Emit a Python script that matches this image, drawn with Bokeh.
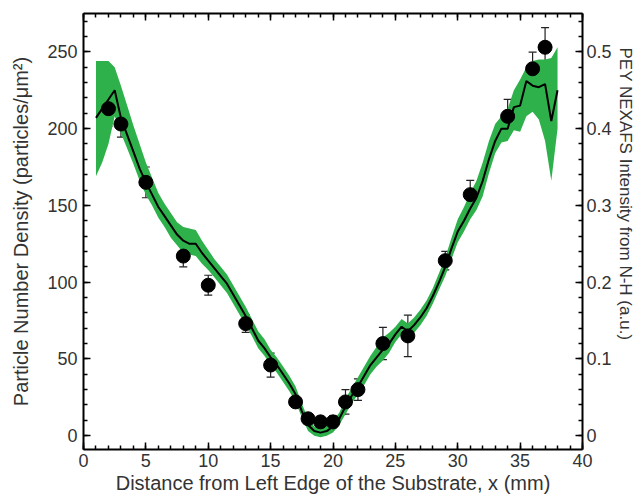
from bokeh.plotting import figure
from bokeh.models import (Range1d, LinearAxis, SingleIntervalTicker, Whisker, TeeHead,
                          ColumnDataSource, CustomJSTickFormatter, Title)
from bokeh.embed import file_html
from bokeh.resources import INLINE

# Measured particle density (particles/um^2) with error bars
pts_x = [2, 3, 5, 8, 10, 13, 15, 17, 18, 19, 20, 21, 22, 24, 26, 29, 31, 34, 36, 37]
pts_y = [213, 203, 165, 117, 98, 73, 46, 22, 11, 9, 9, 22, 30, 60, 65, 114, 157, 208, 239, 253]
pts_err = [11.5, 8.5, 10, 7, 6.5, 5.7, 7.8, 3, 2.5, 2.5, 4, 8, 7, 10.5, 13.5, 6, 9.3, 11, 10.8, 12.8]

# PEY NEXAFS intensity profile (plotted in density units; right axis = value/500)
line_x = [1.0, 1.5, 2.0, 2.5, 3.0, 3.5, 4.0, 4.5, 5.0, 5.5, 6.0, 6.5, 7.0, 7.5, 8.0, 8.5,
          9.0, 9.5, 10.0, 10.5, 11.0, 11.5, 12.0, 12.5, 13.0, 13.5, 14.0, 14.5, 15.0, 15.5,
          16.0, 16.5, 17.0, 17.5, 18.0, 18.5, 19.0, 19.5, 20.0, 20.5, 21.0, 21.5, 22.0, 22.5,
          23.0, 23.5, 24.0, 24.5, 25.0, 25.5, 26.0, 26.5, 27.0, 27.5, 28.0, 28.5, 29.0, 29.5,
          30.0, 30.5, 31.0, 31.5, 32.0, 32.5, 33.0, 33.5, 34.0, 34.5, 35.0, 35.5, 36.0, 36.5,
          37.0, 37.5, 38.0]
line_y = [207, 213, 219, 225, 207, 196, 185, 174, 165, 157, 149, 143, 137, 131, 127, 125,
          125, 119, 114, 109, 104, 99, 92, 85, 78, 70, 62, 57, 51, 46,
          40, 34, 27, 16, 7, 3, 2, 3, 6, 11, 19, 26, 32, 39,
          46, 51, 56, 60, 66, 71, 68, 72, 77, 83, 91, 100, 110, 122,
          133, 140, 148, 155, 166, 180, 192, 200, 200, 214, 215, 231, 228, 227,
          229, 205, 225]
band_lo = [169, 178, 190, 208, 197, 187, 177, 166, 157, 150, 142, 136, 129, 124, 119, 118,
           117, 112, 108, 103, 98, 93, 86, 79, 72, 65, 57, 52, 46, 41,
           35, 29, 22, 12, 3, 0, -1, 0, 2, 7, 14, 21, 27, 33,
           40, 45, 49, 54, 61, 66, 64, 67, 72, 78, 86, 95, 104, 115,
           126, 133, 141, 147, 156, 171, 184, 191, 192, 199, 198, 208, 211, 206,
           192, 166, 200]
band_hi = [244, 244, 244, 240, 228, 215, 202, 190, 178, 168, 158, 151, 145, 139, 136, 135,
           134, 127, 121, 115, 110, 105, 98, 91, 84, 76, 68, 63, 56, 51,
           45, 39, 32, 21, 11, 6, 5, 7, 10, 15, 24, 31, 38, 45,
           52, 58, 64, 67, 71, 76, 73, 77, 82, 88, 96, 106, 116, 129,
           141, 149, 158, 166, 178, 192, 203, 208, 213, 225, 232, 240, 244, 245,
           245, 246, 253]

x_ticks_interval = 5
y_ticks_interval = 50
r_ticks_interval = 0.1

FONT = "Liberation Sans"
TXT = "#333333"
GREEN = "#2eb04b"

p = figure(width=642, height=499, output_backend="svg", toolbar_location=None,
           x_range=Range1d(0, 40), y_range=Range1d(-9, 275),
           min_border_left=83, min_border_right=60, min_border_top=13, min_border_bottom=50)
p.outline_line_color = None
p.xgrid.visible = False
p.ygrid.visible = False
p.background_fill_color = "white"
p.border_fill_color = "white"

p.extra_y_ranges = {"r": Range1d(-9 / 500, 275 / 500)}

def style(ax, label_size="18px", title_size="20px"):
    ax.axis_line_color = "black"
    ax.axis_line_width = 2
    ax.major_tick_in = 7
    ax.major_tick_out = 0
    ax.minor_tick_in = 4
    ax.minor_tick_out = 0
    ax.major_tick_line_width = 1.5
    ax.minor_tick_line_width = 1.5
    ax.major_tick_line_color = "black"
    ax.minor_tick_line_color = "black"
    ax.major_label_text_font = FONT
    ax.major_label_text_font_size = label_size
    ax.major_label_text_color = TXT
    ax.axis_label_text_font = FONT
    ax.axis_label_text_font_size = title_size
    ax.axis_label_text_font_style = "normal"
    ax.axis_label_text_color = TXT

xax = p.xaxis[0]
xax.ticker = SingleIntervalTicker(interval=x_ticks_interval, num_minor_ticks=5)
xax.axis_label = "Distance from Left Edge of the Substrate, x (mm)"
style(xax)
xax.major_label_standoff = 4
xax.axis_label_standoff = 2

yax = p.yaxis[0]
yax.ticker = SingleIntervalTicker(interval=y_ticks_interval, num_minor_ticks=5)
yax.axis_label = "Particle Number Density (particles/μm²)"
style(yax)
yax.major_label_standoff = 6
yax.axis_label_standoff = 12

rax = LinearAxis(y_range_name="r",
                 ticker=SingleIntervalTicker(interval=r_ticks_interval, num_minor_ticks=5),
                 formatter=CustomJSTickFormatter(code="return Math.abs(tick) < 1e-9 ? '0' : tick.toFixed(1);"))
style(rax)
rax.major_label_standoff = 4
p.add_layout(rax, "right")

# right-hand axis title, starting near the top of the frame as in the reference
rtitle = Title(text="PEY NEXAFS Intensity from N-H (a.u.)", align="left", offset=34,
               text_font=FONT, text_font_size="17px", text_color=TXT,
               text_font_style="normal", standoff=2)
p.add_layout(rtitle, "right")

tax = LinearAxis(ticker=SingleIntervalTicker(interval=x_ticks_interval, num_minor_ticks=5),
                 formatter=CustomJSTickFormatter(code="return '';"))
style(tax, label_size="1px")
tax.major_label_standoff = 0
p.add_layout(tax, "above")

p.varea(x=line_x, y1=band_lo, y2=band_hi, fill_color=GREEN, fill_alpha=1.0)
p.line(x=line_x, y=line_y, line_color="black", line_width=2)

src = ColumnDataSource(dict(x=pts_x, y=pts_y,
                            lo=[v - e for v, e in zip(pts_y, pts_err)],
                            hi=[v + e for v, e in zip(pts_y, pts_err)]))
wh = Whisker(source=src, base="x", lower="lo", upper="hi", line_color="#222222", line_width=1.2,
             upper_head=TeeHead(size=8, line_color="#222222", line_width=1.2),
             lower_head=TeeHead(size=8, line_color="#222222", line_width=1.2))
p.add_layout(wh)
p.scatter(x="x", y="y", source=src, size=14, fill_color="black", line_color="black")

open("out.html", "w").write(file_html(p, INLINE))
